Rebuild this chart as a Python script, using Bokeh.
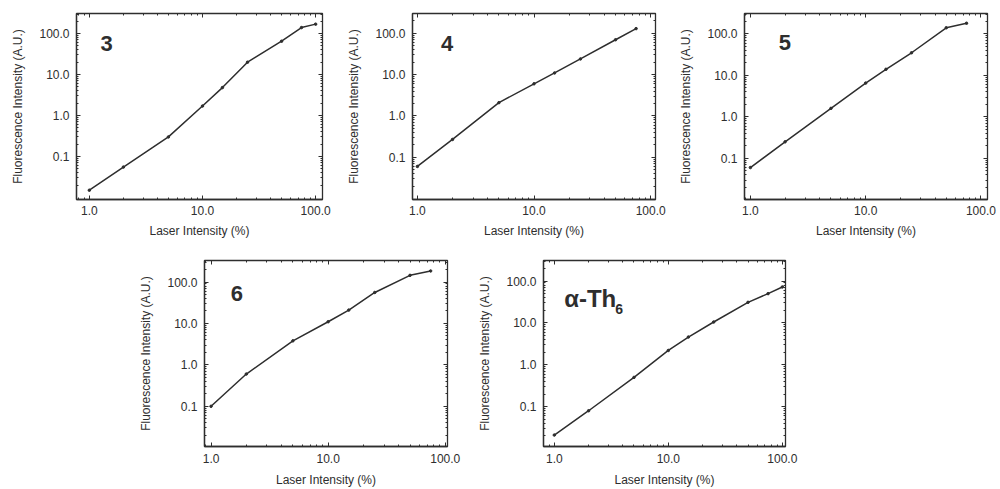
from bokeh.plotting import figure
from bokeh.models import (Range1d, FixedTicker, PrintfTickFormatter, LogAxis, Label, Spacer,
                          CustomJSTickFormatter)
from bokeh.layouts import row, column
from bokeh.embed import file_html
from bokeh.resources import INLINE

# ---- data ----
x_3 = [1, 2, 5, 10, 15, 25, 50, 75, 100]
y_3 = [0.015, 0.055, 0.3, 1.7, 4.8, 20, 65, 140, 170]

x_4 = [1, 2, 5, 10, 15, 25, 50, 75]
y_4 = [0.06, 0.27, 2.1, 6.0, 11, 24, 70, 130]

x_5 = [1, 2, 5, 10, 15, 25, 50, 75]
y_5 = [0.06, 0.25, 1.6, 6.5, 14, 35, 140, 180]

x_6 = [1, 2, 5, 10, 15, 25, 50, 75]
y_6 = [0.1, 0.6, 3.8, 11, 21, 56, 145, 185]

x_th = [1, 2, 5, 10, 15, 25, 50, 75, 100]
y_th = [0.021, 0.08, 0.5, 2.2, 4.6, 10.5, 31, 50, 72]

x_ticks = [1, 10, 100]
y_ticks = [0.1, 1, 10, 100]
x_label = "Laser Intensity (%)"
y_label = "Fluorescence Intensity (A.U.)"

FONT = "Liberation Sans"
INK = "#2e2e2e"


def minors(lo, hi):
    out = []
    for d in range(-3, 4):
        for k in range(2, 10):
            v = k * 10.0 ** d
            if lo <= v <= hi:
                out.append(v)
    return out


def make_panel(xs, ys, xr, yr, width, height, bl, br, bt, bb,
               xl_std, xa_std, name, name_xy, name_size="22px", sub=None, sub_off=(0, 0)):
    p = figure(width=width, height=height, x_axis_type="log", y_axis_type="log",
               x_range=Range1d(*xr), y_range=Range1d(*yr),
               output_backend="svg", toolbar_location=None,
               min_border_left=bl, min_border_right=br,
               min_border_top=bt, min_border_bottom=bb)
    p.grid.visible = False
    p.outline_line_color = INK
    p.outline_line_width = 1.3
    p.background_fill_color = "white"
    p.border_fill_color = "white"

    xt = FixedTicker(ticks=x_ticks, minor_ticks=minors(*xr))
    yt = FixedTicker(ticks=y_ticks, minor_ticks=minors(*yr))

    for ax, tk in ((p.xaxis[0], xt), (p.yaxis[0], yt)):
        ax.ticker = tk
        ax.formatter = PrintfTickFormatter(format="%.1f")
        ax.major_tick_in = 4
        ax.major_tick_out = 0
        ax.minor_tick_in = 2
        ax.minor_tick_out = 0
        ax.axis_line_color = INK
        ax.axis_line_width = 1.3
        ax.major_tick_line_color = INK
        ax.minor_tick_line_color = INK
        ax.major_label_text_font = FONT
        ax.major_label_text_font_size = "12px"
        ax.major_label_text_color = INK
        ax.axis_label_text_font = FONT
        ax.axis_label_text_font_size = "12px"
        ax.axis_label_text_font_style = "normal"
        ax.axis_label_text_color = INK

    p.xaxis[0].axis_label = x_label
    p.xaxis[0].major_label_standoff = xl_std
    p.xaxis[0].axis_label_standoff = xa_std
    p.yaxis[0].axis_label = y_label
    p.yaxis[0].major_label_standoff = 7
    p.yaxis[0].axis_label_standoff = 11

    for side, tk in (("above", xt), ("right", yt)):
        a = LogAxis(ticker=tk, formatter=CustomJSTickFormatter(code="return ''"),
                    major_label_text_font_size="1px", major_label_standoff=0,
                    major_tick_in=4, major_tick_out=0, minor_tick_in=2, minor_tick_out=0,
                    axis_line_color=INK, major_tick_line_color=INK, minor_tick_line_color=INK)
        p.add_layout(a, side)

    p.line(xs, ys, line_color=INK, line_width=1.5)
    p.scatter(xs, ys, size=2.5, color=INK)

    p.add_layout(Label(x=name_xy[0], y=name_xy[1], text=name, text_font=FONT,
                       text_font_size=name_size, text_font_style="bold", text_color=INK,
                       text_align="center" if sub is None else "left",
                       text_baseline="middle"))
    if sub is not None:
        p.add_layout(Label(x=name_xy[0], y=name_xy[1], x_offset=sub_off[0], y_offset=sub_off[1],
                           text=sub, text_font=FONT,
                           text_font_size="14px", text_font_style="bold", text_color=INK,
                           text_align="left", text_baseline="middle"))
    return p


p3 = make_panel(x_3, y_3, (0.77, 115), (0.0089, 309), 336, 236, 64, 22, 5, 45,
                6, 6, "3", (1.42, 57))
p4 = make_panel(x_4, y_4, (0.908, 110), (0.0095, 302), 332, 236, 64, 21, 5, 45,
                6, 6, "4", (1.8, 57))
p5 = make_panel(x_5, y_5, (0.889, 114), (0.0102, 309), 324, 236, 64, 13, 5, 45,
                6, 6, "5", (1.99, 62))
p6 = make_panel(x_6, y_6, (0.879, 104.5), (0.0107, 331), 339, 245, 64, 28, 16, 42,
                7, 7, "6", (1.66, 52))
pth = make_panel(x_th, y_th, (0.804, 106.6), (0.0112, 309), 332, 245, 64, 22, 16, 42,
                 7, 7, "α-Th", (1.22, 39), name_size="24px", sub="6", sub_off=(51, -11))

layout = column(
    Spacer(width=1000, height=8),
    row(Spacer(width=8, height=236), p3, p4, p5),
    row(Spacer(width=136, height=245), p6, pth),
)

open("out.html", "w").write(file_html(layout, INLINE))
